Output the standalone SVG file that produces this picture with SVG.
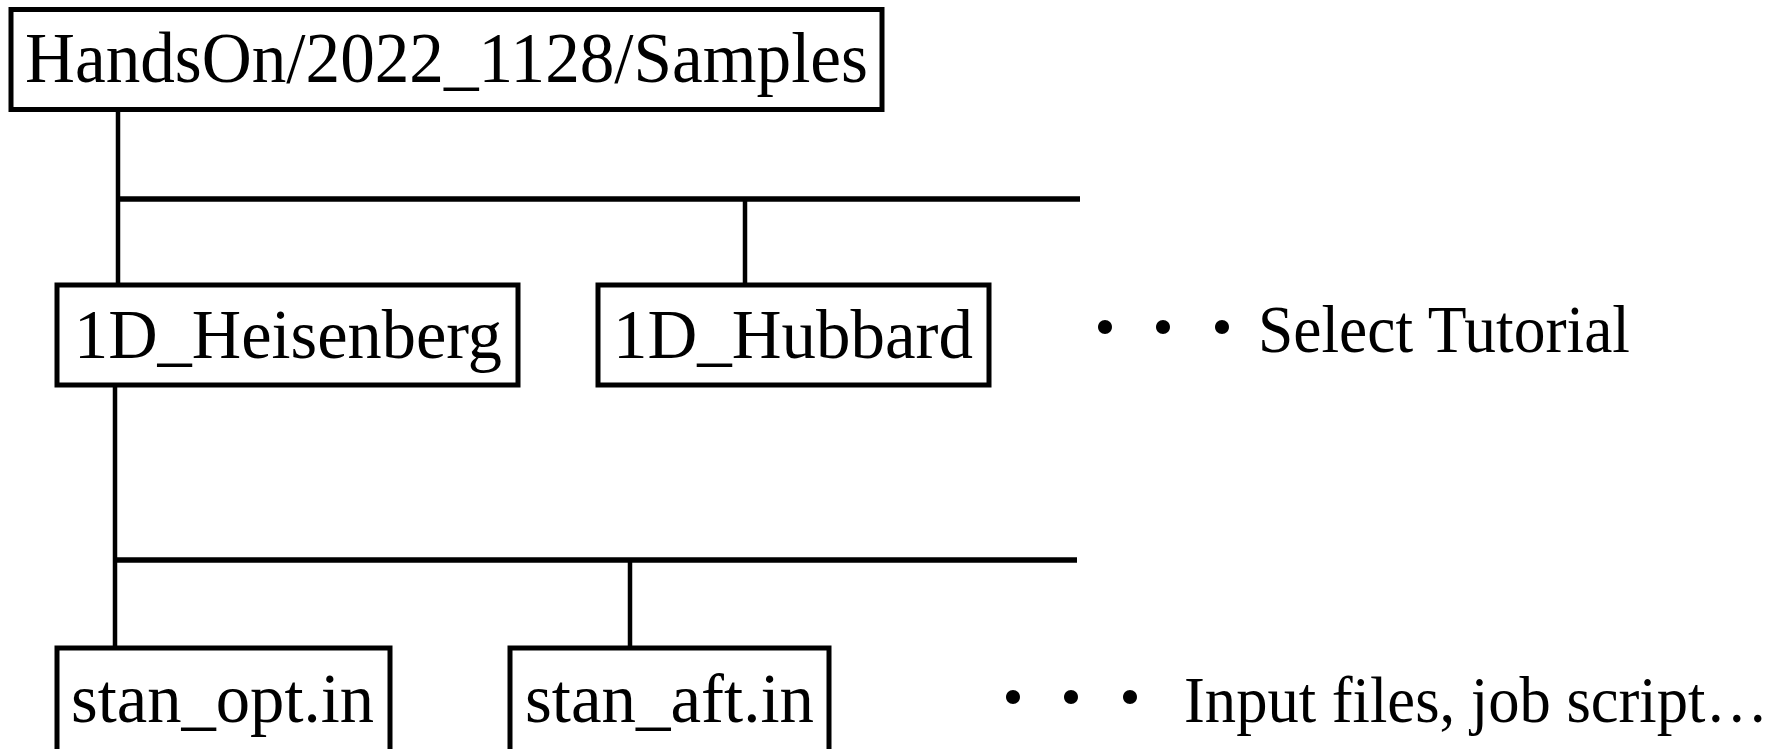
<svg xmlns="http://www.w3.org/2000/svg" width="1790" height="749" viewBox="0 0 1790 749">
  <style>
    .box { fill: #ffffff; stroke: #000000; stroke-width: 5; }
    .lbl { font-family: "Liberation Serif", "Times New Roman", serif; fill: #000000; }
    .dots { font-family: "Noto Sans CJK JP", sans-serif; fill: #000000; }
    .wire { stroke: #000000; fill: none; }
    .v { stroke-width: 4.5; }
    .h { stroke-width: 5.5; }
  </style>
  <rect width="1790" height="749" fill="#ffffff"/>

  <!-- tree connectors -->
  <g id="connectors">
    <line class="wire v" x1="118" y1="110" x2="118" y2="284"/>
    <line class="wire h" x1="116" y1="199" x2="1080" y2="199"/>
    <line class="wire v" x1="745" y1="199" x2="745" y2="284"/>
    <line class="wire v" x1="115" y1="386" x2="115" y2="647"/>
    <line class="wire h" x1="113" y1="560" x2="1077" y2="560"/>
    <line class="wire v" x1="630" y1="560" x2="630" y2="647"/>
  </g>

  <g id="root">
    <rect class="box" x="11" y="9.5" width="871" height="100"/>
    <text class="lbl" x="25" y="82" font-size="72" textLength="843" lengthAdjust="spacingAndGlyphs">HandsOn/2022_1128/Samples</text>
  </g>

  <g id="heisenberg">
    <rect class="box" x="57" y="285" width="461" height="100"/>
    <text class="lbl" x="74" y="358" font-size="69" textLength="428" lengthAdjust="spacingAndGlyphs">1D_Heisenberg</text>
  </g>

  <g id="hubbard">
    <rect class="box" x="598" y="285" width="391" height="100"/>
    <text class="lbl" x="613" y="358" font-size="69" textLength="360" lengthAdjust="spacingAndGlyphs">1D_Hubbard</text>
  </g>

  <g id="tutorial-note">
    <text class="dots" x="1072 1130 1189" y="352" font-size="66">・・・</text>
    <text class="lbl" x="1258" y="352" font-size="67" textLength="372" lengthAdjust="spacingAndGlyphs">Select Tutorial</text>
  </g>

  <g id="stan-opt">
    <rect class="box" x="57" y="648" width="333" height="120"/>
    <text class="lbl" x="71" y="722" font-size="69" textLength="303" lengthAdjust="spacingAndGlyphs">stan_opt.in</text>
  </g>

  <g id="stan-aft">
    <rect class="box" x="510" y="648" width="319" height="120"/>
    <text class="lbl" x="525" y="722" font-size="69" textLength="289" lengthAdjust="spacingAndGlyphs">stan_aft.in</text>
  </g>

  <g id="files-note">
    <text class="dots" x="980 1038 1097" y="722" font-size="66">・・・</text>
    <text class="lbl" x="1184" y="722" font-size="66" textLength="584" lengthAdjust="spacingAndGlyphs">Input files, job script…</text>
  </g>
</svg>
